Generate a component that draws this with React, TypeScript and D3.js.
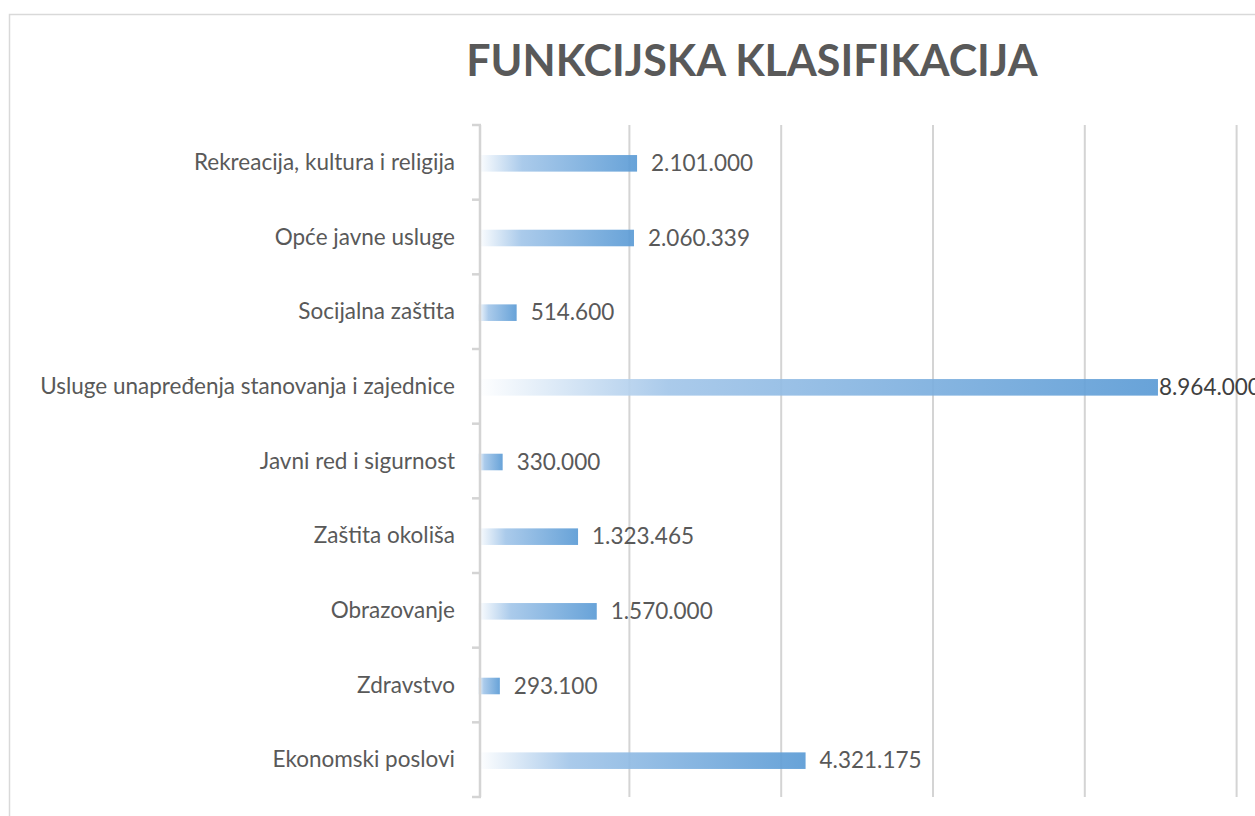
import React from "react";
import * as d3 from "d3";

const categories = [
  "Rekreacija, kultura i religija",
  "Opće javne usluge",
  "Socijalna zaštita",
  "Usluge unapređenja stanovanja i zajednice",
  "Javni red i sigurnost",
  "Zaštita okoliša",
  "Obrazovanje",
  "Zdravstvo",
  "Ekonomski poslovi",
];
const values = [2101000, 2060339, 514600, 8964000, 330000, 1323465, 1570000, 293100, 4321175];
const gridTicks = [2000000, 4000000, 6000000, 8000000, 10000000];

const W = 1255;
const H = 816;
const FONT = "Lato, 'Open Sans', sans-serif";
const GREY = "#595959";

const App = () => {
  const ref = React.useRef<SVGSVGElement>(null);

  React.useEffect(() => {
    document.body.style.margin = "0";
    const svg = d3.select(ref.current);
    svg.selectAll("*").remove();

    const x = d3.scaleLinear().domain([0, 10000000]).range([477.6, 1236.6]);
    const y = d3.scaleBand<string>().domain(categories).range([125, 797]);
    const fmt = d3.formatLocale({ decimal: ",", thousands: ".", grouping: [3], currency: ["", ""] }).format(",");

    //gradient for the bars
    const grad = svg.append("defs").append("linearGradient")
      .attr("id", "barGrad")
      .attr("x1", "0").attr("x2", "1").attr("y1", "0").attr("y2", "0");
    grad.append("stop").attr("offset", "0").attr("stop-color", "#ffffff");
    grad.append("stop").attr("offset", "0.28").attr("stop-color", "#a3c6e9");
    grad.append("stop").attr("offset", "1").attr("stop-color", "#5b9bd5");

    //chart border
    svg.append("rect")
      .attr("x", 9.5).attr("y", 14.5)
      .attr("width", W + 20).attr("height", H + 20)
      .attr("fill", "white")
      .attr("stroke", "#d9d9d9")
      .attr("stroke-width", 1.5);

    //title
    svg.append("text")
      .attr("x", 752).attr("y", 76)
      .attr("text-anchor", "middle")
      .attr("font-family", FONT)
      .attr("font-weight", "bold")
      .attr("font-size", "43px")
      .attr("fill", GREY)
      .text("FUNKCIJSKA KLASIFIKACIJA");

    //gridlines
    svg.append("g").selectAll("line")
      .data(gridTicks)
      .join("line")
      .attr("x1", d => x(d)).attr("x2", d => x(d))
      .attr("y1", 125).attr("y2", 797)
      .attr("stroke", "#d4d4d4")
      .attr("stroke-width", 2);

    //bars
    const barH = y.bandwidth() * 0.222;
    svg.append("g").selectAll("rect")
      .data(values)
      .join("rect")
      .attr("x", x(0))
      .attr("y", (d, i) => y(categories[i])! + y.bandwidth() / 2 - barH / 2 + 1)
      .attr("width", d => x(d) - x(0))
      .attr("height", barH)
      .attr("fill", "url(#barGrad)")
      .attr("fill-opacity", 0.92);

    //category axis
    const axis = svg.append("g")
      .attr("stroke", "#d4d4d4")
      .attr("stroke-width", 2.5)
      .attr("fill", "none");
    axis.append("line")
      .attr("x1", 480).attr("x2", 480)
      .attr("y1", 125).attr("y2", 797);
    const bounds = categories.map(c => y(c)!).concat([797]);
    axis.selectAll("line.tick")
      .data(bounds)
      .join("line")
      .attr("class", "tick")
      .attr("x1", 472).attr("x2", 481)
      .attr("y1", d => d).attr("y2", d => d);

    //category labels
    svg.append("g").selectAll("text")
      .data(categories)
      .join("text")
      .attr("x", 455)
      .attr("y", d => y(d)! + y.bandwidth() / 2 + 7.5)
      .attr("text-anchor", "end")
      .attr("font-family", FONT)
      .attr("font-size", "22.5px")
      .attr("fill", GREY)
      .text(d => d);

    //value labels
    svg.append("g").selectAll("text")
      .data(values)
      .join("text")
      .attr("x", d => (x(d) + 110 > W ? x(d) + 1 : x(d) + 14))
      .attr("y", (d, i) => y(categories[i])! + y.bandwidth() / 2 + 8.5)
      .attr("font-family", FONT)
      .attr("font-size", "22.5px")
      .attr("fill", d => (x(d) + 110 > W ? "#404040" : GREY))
      .text(d => fmt(d));
  }, []);

  return (
    <svg ref={ref} width={W} height={H} style={{ display: "block", background: "white" }}></svg>
  );
};

export default App;
